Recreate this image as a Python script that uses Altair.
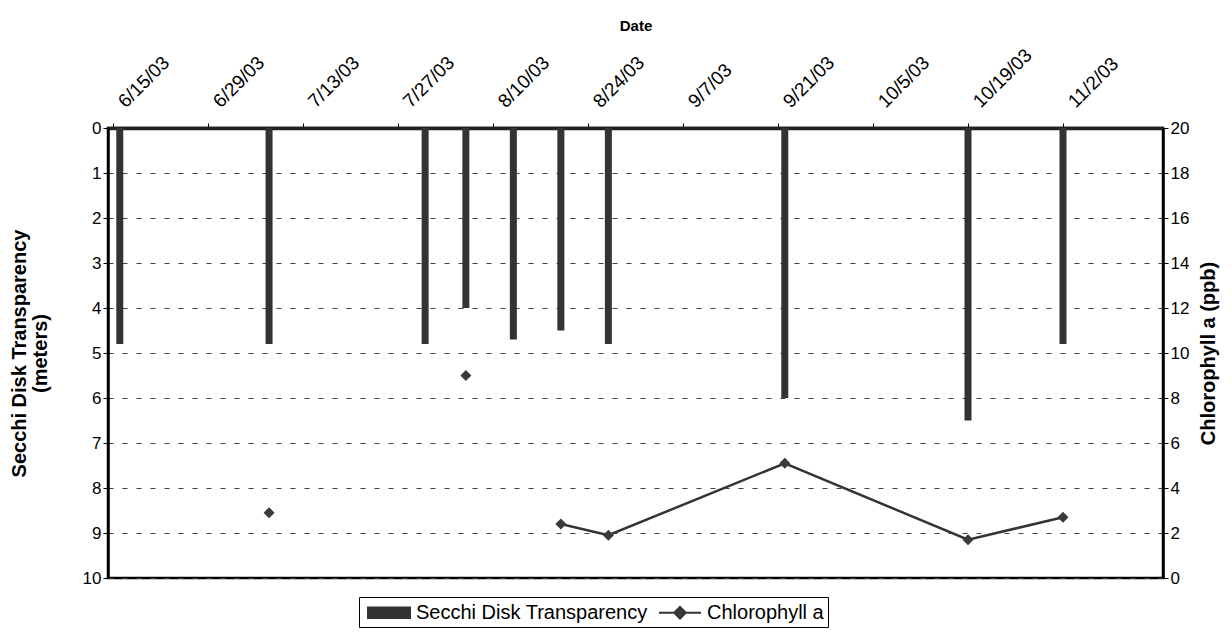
import altair as alt
import pandas as pd

# ---- data ----
sample_dates = ["2003-06-16", "2003-07-08", "2003-07-31", "2003-08-06", "2003-08-13",
                "2003-08-20", "2003-08-27", "2003-09-22", "2003-10-19", "2003-11-02"]
secchi_m = [4.8, 4.8, 4.8, 4.0, 4.7, 4.5, 4.8, 6.0, 6.5, 4.8]

chl_dates = ["2003-07-08", "2003-08-06", "2003-08-20", "2003-08-27",
             "2003-09-22", "2003-10-19", "2003-11-02"]
chl_ppb = [2.9, 9.0, 2.4, 1.9, 5.1, 1.7, 2.7]
chl_run = [1, 2, 3, 3, 3, 3, 3]  # consecutive samples joined by the line

tick_dates = ["2003-06-15", "2003-06-29", "2003-07-13", "2003-07-27", "2003-08-10",
              "2003-08-24", "2003-09-07", "2003-09-21", "2003-10-05", "2003-10-19",
              "2003-11-02"]
x_domain = ["2003-06-15", "2003-11-16"]
series_names = ["Secchi Disk Transparency", "Chlorophyll a"]
secchi_ticks = list(range(0, 11))
chl_ticks = list(range(0, 21, 2))

FONT = "Liberation Sans"


def dt(s):
    y, m, d = s.split("-")
    return alt.DateTime(year=int(y), month=int(m), date=int(d), utc=True)


secchi_df = pd.DataFrame({"date": sample_dates, "depth": secchi_m,
                          "series": series_names[0]})
chl_df = pd.DataFrame({"date": chl_dates, "chl": chl_ppb, "run": chl_run,
                       "series": series_names[1]})

x_enc = alt.X(
    "date:T",
    scale=alt.Scale(type="utc", domain=[dt(x_domain[0]), dt(x_domain[1])]),
    axis=alt.Axis(
        orient="top", values=[dt(t) for t in tick_dates],
        labelExpr="utcFormat(datum.value, '%-m/%-d/%y')",
        labelAngle=315, labelAlign="left", labelBaseline="middle",
        labelPadding=19, labelOffset=8, labelFontSize=19, labelOverlap=False,
        title="Date", titleFontSize=15, titleFontWeight="bold", titleY=-95,
        domainWidth=3.5, domainColor="#222", tickSize=5, grid=False,
    ),
)

color_scale = alt.Scale(domain=series_names, range=["#333333", "#3a3a3a"])
shape_scale = alt.Scale(
    domain=series_names,
    range=["M-2,-0.5H2V0.5H-2Z",
           "M-2,0H-0.55M0.55,0H2M0,-0.55L0.55,0L0,0.55L-0.55,0Z"],
)
legend_def = alt.Legend(
    title=None, orient="none", legendX=251, legendY=469,
    direction="horizontal", columns=2, columnPadding=6,
    strokeColor="black", padding=4,
    labelFontSize=20, labelColor="black", labelFont=FONT, labelLimit=600,
    symbolSize=441, symbolOffset=14.5, labelOffset=15.5,
    symbolStrokeColor="#333", symbolStrokeWidth=2,
)

bars = alt.Chart(secchi_df).mark_bar(size=7).encode(
    x=x_enc,
    y=alt.Y(
        "depth:Q",
        scale=alt.Scale(domain=[0, 10], reverse=True, nice=False),
        axis=alt.Axis(
            orient="left", values=secchi_ticks,
            title=["Secchi Disk Transparency", "(meters)"],
            titleFontSize=20, titleFontWeight="bold", titlePadding=32,
            titleLineHeight=21,
            labelFontSize=17, tickSize=5,
            grid=True, gridDash=[5, 9], gridColor="#444", gridWidth=1,
        ),
    ),
    color=alt.Color("series:N", scale=color_scale, legend=legend_def),
)

y_chl = alt.Y(
    "chl:Q",
    scale=alt.Scale(domain=[0, 20], nice=False),
    axis=alt.Axis(
        orient="right", values=chl_ticks, title="Chlorophyll a (ppb)",
        titleAngle=270, titleBaseline="top", titleFontSize=20,
        titleFontWeight="bold", titlePadding=10,
        labelFontSize=17, tickSize=5, grid=False,
    ),
)

line = alt.Chart(chl_df).mark_line(color="#333", strokeWidth=2.5).encode(
    x=x_enc, y=y_chl, detail="run:N"
)
points = alt.Chart(chl_df).mark_point(filled=True, size=400, opacity=1).encode(
    x=x_enc, y=y_chl,
    color=alt.Color("series:N", scale=color_scale, legend=legend_def),
    shape=alt.Shape("series:N", scale=shape_scale, legend=legend_def),
)

chart = (
    alt.layer(bars, alt.layer(line, points))
    .resolve_scale(y="independent")
    .properties(
        width=1055, height=450,
        autosize=alt.AutoSizeParams(type="none"),
        padding={"left": 100, "top": 120, "right": 61, "bottom": 57},
        background="white",
    )
    .configure_view(stroke="black", strokeWidth=2.5)
    .configure_axis(
        labelFont=FONT, titleFont=FONT, labelColor="black", titleColor="black",
        domainColor="black", tickColor="black", domainWidth=2.5,
    )
)

chart.save("out.html", embed_options={"renderer": "svg", "actions": False})
